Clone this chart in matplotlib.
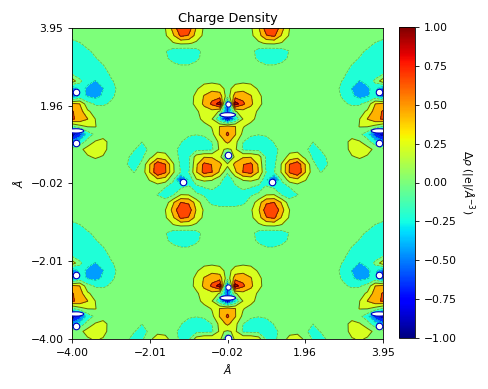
import matplotlib
matplotlib.use("Agg")
import matplotlib.pyplot as plt
import numpy as np
from matplotlib.cm import ScalarMappable
from matplotlib.colors import Normalize
from matplotlib.patches import Ellipse

# density in tenths of e/A^3: left half of one repeat, top to bottom
tile = [
    [0, 0, 0, 0, 0, 0, 0, 0, 0, 0, 0, .16, 1.08, 4.07, 7.6, 6.9, 3.1, .77, 0, -.05, -.1],
    [-.6, -.4, -.1, 0, 0, 0, 0, 0, 0, 0, 0, .1, .8, 3, 6, 5.4, 2.4, .6, .06, 0, 0],
    [-1.6, -1.2, -.6, -.2, 0, 0, 0, 0, 0, 0, 0, .05, .3, .9, 1.5, 1.4, .7, .15, 0, 0, 0],
    [-2, -1.9, -1.3, -.8, -.3, -.05, 0, 0, 0, 0, 0, -.2, -1, -2, -2.4, -2.4, -1.8, -.5, 0, 0, 0],
    [-2.2, -2.2, -1.9, -1.2, -.7, -.2, 0, 0, 0, 0, 0, -.1, -.7, -1.9, -2.6, -2.6, -1.6, -.4, 0, 0, 0],
    [-2.2, -2.4, -2.3, -1.9, -1.2, -.6, -.1, 0, 0, 0, 0, 0, -.1, -.5, -.9, -.9, -.4, 0, 0, 0, 0],
    [-1.5, -2.6, -2.8, -2.7, -2, -.8, -.4, -.1, 0, 0, 0, 0, 0, 0, 0, 0, 0, 0, 0, 0, 0],
    [2.5, -.5, -3, -3.4, -2.8, -1.4, -.5, -.1, 0, 0, 0, 0, 0, 0, 0, 0, .1, .4, .6, .3, 0],
    [-6, -2.8, -3.6, -4.3, -3.4, -1.9, -.7, -.1, 0, 0, 0, 0, 0, 0, 0, 0, .8, 2.2, 2.6, 2.2, .2],
    [-6, -2.6, -3.5, -4.1, -3, -1.6, -.5, -.1, 0, 0, 0, 0, 0, 0, 0, 0, 1.7, 3.5, 4.8, 4.6, -.3],
    [4, 3.3, -.3, -1.4, -1.5, -.8, -.2, 0, 0, 0, 0, 0, 0, 0, 0, .1, 1.8, 3.8, 6, 9, -8],
    [5.8, 4.4, 1.5, .2, 0, 0, 0, 0, 0, 0, 0, 0, 0, 0, 0, 0, .7, 2.3, 2.6, .8, -6],
    [5.8, 5, 3.4, 1.1, .2, 0, 0, 0, 0, 0, 0, 0, 0, 0, 0, 0, .1, 2, 1.2, -3.3, -10],
    [-1.5, .2, 1.2, 1.2, .2, 0, 0, 0, 0, 0, 0, 0, 0, 0, 0, 0, 0, .05, 1.3, 3.4, 4.4],
    [-9.5, -7, -2.5, -.6, -.1, 0, 0, 0, 0, 0, 0, 0, 0, 0, -.1, -.7, -1, -.7, .5, 3.5, 6],
    [-5, -2.5, -.3, 1.3, 2, .2, 0, 0, -.1, -1.1, -.6, 0, 0, -.3, -1, -2.2, -2.5, -2.2, -1.1, 1.8, 3.9],
    [-.5, .5, 2, 2.4, 2, .1, 0, -.1, -1, -2, -.7, .3, .24, -.6, -1.6, -2.4, -1.8, -1.7, -1.5, 1.5, .8],
    [0, 0, .8, 1.4, .9, 0, 0, -.6, -2.1, -1.5, .5, 2.49, 1.96, -.1, -1.6, -1.6, 2.2, 3.2, 3.1, 2.2, -5],
    [0, 0, 0, 0, 0, 0, 0, -1, -2.2, -.6, 3.29, 7.25, 5.7, 1.41, -1.6, -1.7, 3, 6.2, 5.5, 3.8, 1.8],
    [0, 0, 0, 0, 0, 0, 0, -.5, -1.2, -.2, 3.4, 7.5, 5.9, 1.46, -1.3, -1.3, 3.2, 6.4, 5.6, 3, -.9],
    [0, 0, 0, 0, 0, 0, 0, 0, -.1, 0, 1.25, 2.77, 2.18, -.8, -7, -3, .9, 1.6, 1.3, -.4, -2.4],
    [0, 0, 0, 0, 0, 0, 0, 0, 0, 0, 0, -.2, -1.1, -2, -1.5, -.7, -2, -1.1, -.7, -1.5, -2.7],
    [0, 0, 0, 0, 0, 0, 0, 0, 0, 0, 0, -1.2, -2.1, -1.4, 1.2, 1.1, -.8, -1.3, -2, -2.6, -2.7],
    [0, 0, 0, 0, 0, 0, 0, 0, 0, 0, 0, 0, -.2, 3, 5.6, 5.2, 2.4, -.3, -1.6, -2.3, -2.4],
]

atom_x = [-3.90, -3.90, -1.16, 1.11, 3.85, 3.85, -0.02, -3.90, -3.90, 3.85, 3.85, -0.02]
atom_y = [2.31, 1.01, 0.01, 0.01, 2.31, 1.01, 0.70, -2.37, -3.67, -2.37, -3.67, -3.98]
top_atom_x = [-0.02, -0.02]
top_atom_y = [2.01, -2.67]
slot_x = [-3.90, 3.85, -0.02, -3.90, 3.85, -0.02]
slot_y = [1.32, 1.32, 1.73, -3.36, -3.36, -2.95]

ticks = [-4.00, -2.01, -0.02, 1.96, 3.95]
cbar_ticks = [-1, -.75, -.5, -.25, 0, .25, .5, .75, 1]

rows = tile + tile[:18]
density = np.array([r + r[-2::-1] for r in rows]) * 0.1
x = np.linspace(-4.00, 3.95, density.shape[1])
y = np.linspace(3.95, -4.00, density.shape[0])
levels = np.linspace(-1, 1, 10)

plt.rcParams["font.size"] = 7.75
plt.rcParams["axes.linewidth"] = 0.6
plt.rcParams["xtick.major.width"] = 0.6
plt.rcParams["ytick.major.width"] = 0.6
plt.rcParams["xtick.major.size"] = 2.7
plt.rcParams["ytick.major.size"] = 2.7

fig = plt.figure(figsize=(4.88, 3.89), dpi=100)
ax = fig.add_axes([72 / 488, 1 - 339 / 389, 311 / 488, 311 / 389])
cax = fig.add_axes([399 / 488, 1 - 338 / 389, 16 / 488, 311 / 389])

norm = Normalize(-1, 1)
ax.contourf(x, y, density, levels=levels, cmap="jet", norm=norm)
ax.contour(x, y, density, levels=levels[levels > 0], colors="k", linewidths=0.7, alpha=0.6)
ax.contour(x, y, density, levels=levels[levels < 0], colors="k", linewidths=0.5, alpha=0.3)

ax.scatter(atom_x, atom_y, s=22, c="white", edgecolors="#0000c0", linewidths=0.8, zorder=3)
ax.scatter(top_atom_x, top_atom_y, s=14, c="white", edgecolors="#0000c0", linewidths=0.7, zorder=3)
for sx, sy in zip(slot_x, slot_y):
    ax.add_patch(Ellipse((sx, sy), 0.4, 0.11, fc="white", ec="#0000c0", lw=0.8, zorder=3))

ax.set_xlim(-4.00, 3.95)
ax.set_ylim(-4.00, 3.95)
ax.set_xticks(ticks)
ax.set_yticks(ticks)
ax.set_xticklabels([f"{t:.2f}".replace("-", "\u2212") for t in ticks])
ax.set_yticklabels([f"{t:.2f}".replace("-", "\u2212") for t in ticks])
ax.set_xlabel(r"$\AA$", labelpad=3.5)
ax.set_ylabel(r"$\AA$", labelpad=4)
ax.set_title("Charge Density", fontsize=9.3, pad=4.5)

cb = fig.colorbar(ScalarMappable(norm=norm, cmap="jet"), cax=cax)
cb.set_ticks(cbar_ticks)
cb.ax.set_yticklabels([f"{t:.2f}".replace("-", "\u2212") for t in cbar_ticks])
cb.set_label(r"$\Delta\rho$ (|e|/$\AA^{-3}$)", rotation=270, labelpad=14)
cb.outline.set_linewidth(0.6)

fig.savefig("out.png", dpi=100)
